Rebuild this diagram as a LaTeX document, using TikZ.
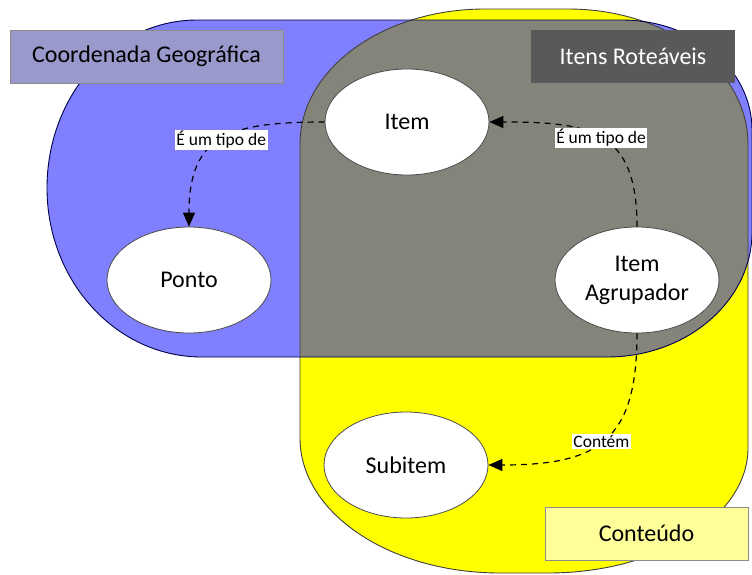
\documentclass[tikz,border=0pt]{standalone}
\usepackage{fontspec}
\setmainfont{Carlito}
\usetikzlibrary{shapes.geometric,arrows.meta,positioning}

\definecolor{azul}{HTML}{8080FF}
\definecolor{amarelo}{HTML}{FFFF00}
\definecolor{cinza}{HTML}{84847A}
\definecolor{lavanda}{HTML}{9999CC}
\definecolor{cinzaesc}{HTML}{595959}
\definecolor{amareloclaro}{HTML}{FFFF99}

% contornos das duas regioes
\newcommand{\formaazul}{(47,188) .. controls (47,95) and (114,20) .. (197,20) -- (622,20)
  .. controls (694,20) and (752,69) .. (752,130) -- (752,232)
  .. controls (752,301) and (687,357) .. (607,357) -- (202,357)
  .. controls (116,357) and (47,281) .. (47,188) -- cycle}
\newcommand{\formaamarela}{(300,144) .. controls (300,69) and (383,9) .. (485,9) -- (568,9)
  .. controls (667,9) and (748,69) .. (748,144) -- (748,448)
  .. controls (748,517) and (658,573) .. (548,573) -- (500,573)
  .. controls (390,573) and (300,513) .. (300,438) -- cycle}

\begin{document}
\begin{tikzpicture}[x=1pt,y=-1pt,
    elem/.style={ellipse,draw=black!70,line width=0.8pt,fill=white,minimum width=164pt,
      minimum height=106pt,inner sep=0pt,font=\fontsize{24}{29}\selectfont},
    rotulo/.style={fill=white,inner sep=1.5pt,font=\fontsize{17.5}{20}\selectfont},
    legenda/.style={draw=black!45,line width=0.8pt,minimum height=53pt,
      font=\fontsize{24}{29}\selectfont},
    seta/.style={line width=1.2pt,dash pattern=on 6pt off 5pt,
      -{Triangle[length=14pt,width=12pt]}}]
    \useasboundingbox (0,0) rectangle (752,574);

    \fill[amarelo] \formaamarela;
    \fill[azul] \formaazul;
    \begin{scope}
        \clip \formaamarela;
        \fill[cinza] \formaazul;
    \end{scope}
    \draw[black!75,line width=0.9pt] \formaamarela;
    \draw[blue!30!black,line width=0.9pt] \formaazul;

    \node[elem] (item) at (407,122) {Item};
    \node[elem] (ponto) at (189,280) {Ponto};
    \node[elem,align=center] (agrupador) at (637,280) {Item\\Agrupador};
    \node[elem] (subitem) at (406,465) {Subitem};

    \node[legenda,fill=lavanda,minimum width=273pt] (coord) at (146.5,56.5) {Coordenada Geográfica};
    \node[legenda,fill=cinzaesc,draw=none,text=white,minimum width=204pt] (itens) at (633,56.5) {Itens Roteáveis};
    \node[legenda,fill=amareloclaro,minimum width=203pt] (conteudo) at (646.5,533.5) {Conteúdo};

    \draw[seta] (item.west) .. controls +(-95,0) and +(0,-92) .. (ponto.north)
        node[rotulo,pos=0.5] {É um tipo de};
    \draw[seta] (agrupador.north) .. controls +(0,-97) and +(101,0) .. (item.east)
        node[rotulo,pos=0.5] {É um tipo de};
    \draw[seta] (agrupador.south) .. controls +(0,107) and +(111,0) .. (subitem.east)
        node[rotulo,pos=0.52] {Contém};
\end{tikzpicture}
\end{document}
